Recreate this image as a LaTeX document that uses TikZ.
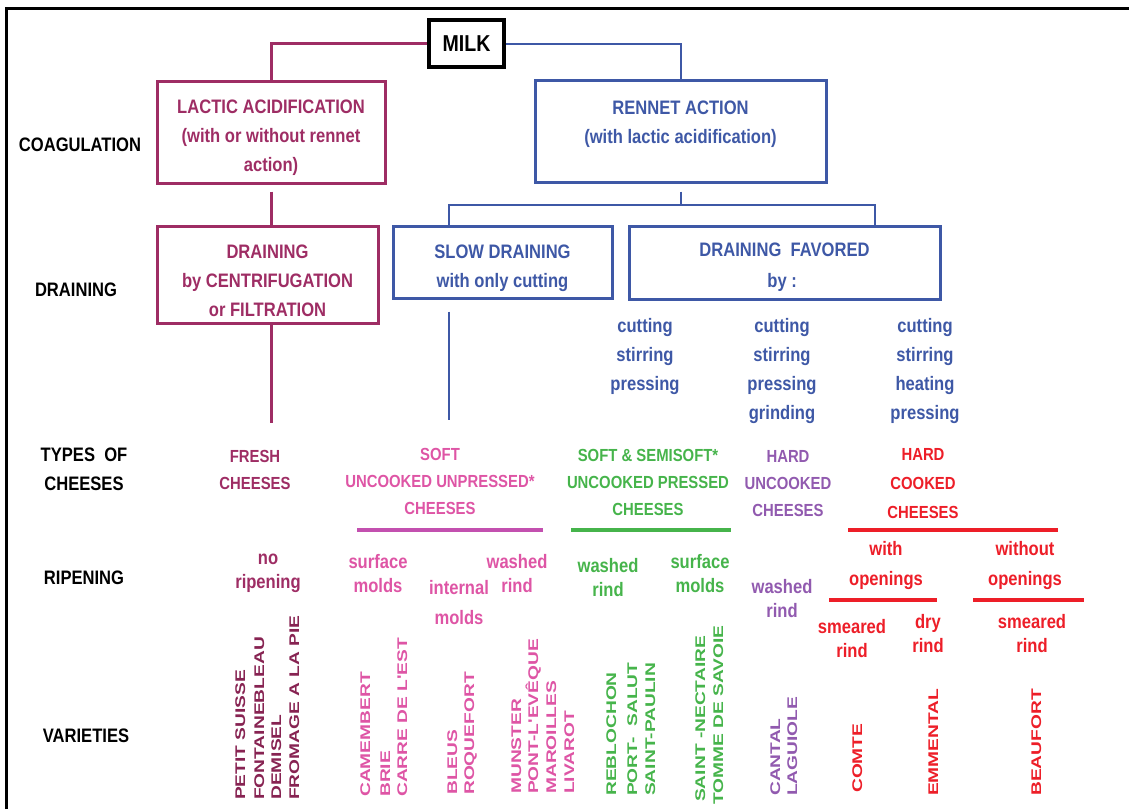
\documentclass[tikz,border=0pt]{standalone}
\usepackage{fontspec}
\setmainfont[FakeStretch=0.85]{Liberation Sans}
\newfontfamily\varfont[FakeStretch=1.37]{Liberation Sans}

\definecolor{lactic}{RGB}{158,45,100}
\definecolor{freshv}{RGB}{135,35,82}
\definecolor{rennet}{RGB}{62,88,166}
\definecolor{softc}{RGB}{222,85,165}
\definecolor{softline}{RGB}{195,80,175}
\definecolor{semic}{RGB}{70,180,75}
\definecolor{hardu}{RGB}{145,90,175}
\definecolor{hardc}{RGB}{237,30,40}

% extra head room on the first line of a box label
\newcommand{\toppad}[1]{\rule{0pt}{#1pt}}

\tikzset{
  lbl/.style={font=\fontsize{19.5}{29}\selectfont\bfseries, align=center, inner sep=0pt},
  typ/.style={font=\fontsize{17.5}{27}\selectfont\bfseries, align=center, inner sep=0pt},
  rip/.style={font=\fontsize{19.5}{24}\selectfont\bfseries, align=center, inner sep=0pt},
  ripwide/.style={font=\fontsize{19.5}{30}\selectfont\bfseries, align=center, inner sep=0pt},
  proc/.style={font=\fontsize{19.5}{29}\selectfont\bfseries, align=center, inner sep=0pt, text=rennet},
  box/.style={lbl, draw, line width=3pt},
  var/.style={font=\varfont\fontsize{14}{17}\selectfont\bfseries, rotate=90, anchor=west,
              inner sep=0pt, text height=10pt, text depth=0pt},
  lacticline/.style={draw=lactic, line width=3pt},
  rennetline/.style={draw=rennet, line width=2pt},
  rule/.style={line width=4pt}
}

\begin{document}
\begin{tikzpicture}[x=1pt,y=-1pt]
\useasboundingbox (0,0) rectangle (1129,809);

% outer frame (left and top edges)
\draw[line width=3pt] (6,809) -- (6,8) -- (1129,8);

% row headings
\node[lbl] (hcoag) at (80,145) {COAGULATION};
\node[lbl] (hdrain) at (76,290) {DRAINING};
\node[lbl] (htypes) at (84,469.5) {TYPES\ \ OF\\CHEESES};
\node[lbl] (hripe) at (84,578) {RIPENING};
\node[lbl] (hvar) at (86,736) {VARIETIES};

% process boxes
\node[box, draw=black, line width=3.5pt, minimum width=75pt, minimum height=47pt,
      font=\fontsize{23}{29}\selectfont\bfseries] (milk) at (466.5,43.5) {MILK};
\node[box, draw=lactic, text=lactic, minimum width=228pt, minimum height=102pt] (lactic)
      at (271,132) {\toppad{26}LACTIC ACIDIFICATION\\(with or without rennet\\action)};
\node[box, draw=rennet, text=rennet, minimum width=291pt, minimum height=102pt] (rennet)
      at (680.5,131) {\toppad{24}RENNET ACTION\\(with lactic acidification)\\\mbox{}};
\node[box, draw=lactic, text=lactic, minimum width=221pt, minimum height=97pt] (drainM)
      at (267.5,274.5) {\toppad{26}DRAINING\\by CENTRIFUGATION\\or FILTRATION};
\node[box, draw=rennet, text=rennet, minimum width=219pt, minimum height=72pt] (slow)
      at (502.5,262) {\toppad{26}SLOW DRAINING\\with only cutting};
\node[box, draw=rennet, text=rennet, minimum width=311pt, minimum height=73pt,
      font=\fontsize{19.5}{31}\selectfont\bfseries] (favored)
      at (784.5,262.5) {\toppad{24}DRAINING\ \ FAVORED\\by :\ \ };

% connectors
\coordinate (split) at (680.5,205);
\coordinate (sx) at (449,0);
\coordinate (fx) at (875,0);
\coordinate (freshtop) at (271,423);
\coordinate (softtop) at (449,420);

\draw[lacticline] (milk.west) -| (lactic.north);
\draw[rennetline] (milk.east) -| (rennet.north);
\draw[lacticline, shorten <=7pt] (lactic.south) -- (lactic.south |- drainM.north);
\draw[lacticline] (lactic.south |- drainM.south) -- (freshtop);
\draw[rennetline, shorten <=8pt] (rennet.south) -- (split);
\draw[rennetline] (sx |- slow.north) -- (sx |- split) -- (fx |- split) -- (fx |- favored.north);
\draw[rennetline, shorten <=12pt] (sx |- slow.south) -- (softtop);

% draining operations
\node[proc] (p1) at (645,356) {cutting\\stirring\\pressing};
\node[proc] (p2) at (782,370.5) {cutting\\stirring\\pressing\\grinding};
\node[proc] (p3) at (925,370.5) {cutting\\stirring\\heating\\pressing};

% types of cheeses
\node[typ, text=lactic] (tfresh) at (255,469.5) {FRESH\\CHEESES};
\node[typ, text=softc] (tsoft) at (440,481.5) {SOFT\\UNCOOKED UNPRESSED*\\CHEESES};
\node[typ, text=semic] (tsemi) at (648,482) {SOFT \& SEMISOFT*\\UNCOOKED PRESSED\\CHEESES};
\node[typ, text=hardu] (thu) at (788,484) {HARD\\UNCOOKED\\CHEESES};
\node[typ, text=hardc, font=\fontsize{17.5}{29}\selectfont\bfseries] (thc) at (923,484)
      {HARD\\COOKED\\CHEESES};

% group rules
\draw[rule, softline] (357,530) -- (543,530);
\draw[rule, semic] (571,530) -- (731,530);
\draw[rule, hardc] (848,530) -- (1058,530);
\draw[rule, hardc] (829,600) -- (937,600);
\draw[rule, hardc] (973,600) -- (1084,600);

% ripening
\node[rip, text=lactic] (rfresh) at (268,573.5) {no\\ripening};
\node[rip, text=softc] (rs1) at (378,573.5) {surface\\molds};
\node[ripwide, text=softc] (rs2) at (459,603) {internal\\molds};
\node[rip, text=softc] (rs3) at (517,573.5) {washed\\rind};
\node[rip, text=semic] (rg1) at (608,577.5) {washed\\rind};
\node[rip, text=semic] (rg2) at (700,573.5) {surface\\molds};
\node[rip, text=hardu] (rh1) at (782,598.5) {washed\\rind};
\node[ripwide, text=hardc] (rc1) at (886,565) {with\\openings};
\node[ripwide, text=hardc] (rc2) at (1025,565) {without\\openings};
\node[rip, text=hardc] (rc3) at (852,639) {smeared\\rind};
\node[rip, text=hardc] (rc4) at (928,633.5) {dry\\rind};
\node[rip, text=hardc] (rc5) at (1032,633.5) {smeared\\rind};

% varieties
\node[var, text=freshv] (v1) at (240,800) {PETIT SUISSE};
\node[var, text=freshv] (v2) at (259,800) {FONTAINEBLEAU};
\node[var, text=freshv] (v3) at (276,800) {DEMISEL};
\node[var, text=freshv] (v4) at (294,800) {FROMAGE A LA PIE};

\node[var, text=softc] (v5) at (365,797) {CAMEMBERT};
\node[var, text=softc] (v6) at (385,797) {BRIE};
\node[var, text=softc] (v7) at (402,797) {CARRE DE L'EST};
\node[var, text=softc] (v8) at (452,795) {BLEUS};
\node[var, text=softc] (v9) at (469,795) {ROQUEFORT};
\node[var, text=softc] (v10) at (516,794) {MUNSTER};
\node[var, text=softc] (v11) at (533,794) {PONT-L'EVÊQUE};
\node[var, text=softc] (v12) at (551,794) {MAROILLES};
\node[var, text=softc] (v13) at (569,794) {LIVAROT};

\node[var, text=semic] (v14) at (611,796) {REBLOCHON};
\node[var, text=semic] (v15) at (632,796) {PORT-\ \ SALUT};
\node[var, text=semic] (v16) at (650,796) {SAINT-PAULIN};
\node[var, text=semic] (v17) at (700,802) {SAINT -NECTAIRE};
\node[var, text=semic] (v18) at (718,805) {TOMME DE SAVOIE};

\node[var, text=hardu] (v19) at (775,796) {CANTAL};
\node[var, text=hardu] (v20) at (792,796) {LAGUIOLE};

\node[var, text=hardc] (v21) at (857,793) {COMTE};
\node[var, text=hardc] (v22) at (933,796) {EMMENTAL};
\node[var, text=hardc] (v23) at (1036,796) {BEAUFORT};
\end{tikzpicture}
\end{document}
